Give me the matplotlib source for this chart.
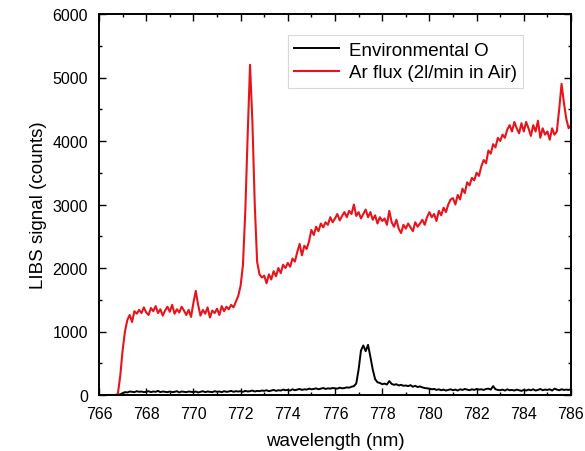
import numpy as np
import matplotlib
matplotlib.use("Agg")
import matplotlib.pyplot as plt
from matplotlib.ticker import MultipleLocator

plt.rcParams['font.family'] = ['Liberation Sans', 'DejaVu Sans']

# wavelength grid (nm), 0.1 nm step from 766.0 to 786.0
wavelength = np.round(np.arange(766.0, 786.05, 0.1), 2)

ar_flux = [
    0, 0, 0, 0, 0, 0, 0, 0, 20, 300,                              # 766
    700, 1000, 1180, 1260, 1150, 1320, 1280, 1340, 1290, 1380,    # 767
    1300, 1260, 1370, 1320, 1400, 1290, 1350, 1250, 1330, 1390,   # 768
    1310, 1420, 1280, 1350, 1300, 1390, 1330, 1260, 1340, 1230,   # 769
    1450, 1640, 1420, 1250, 1340, 1280, 1380, 1220, 1330, 1290,   # 770
    1360, 1260, 1400, 1320, 1390, 1350, 1420, 1380, 1470, 1560,   # 771
    1720, 2050, 2900, 4100, 5200, 4300, 3000, 2100, 1900, 1850,   # 772
    1880, 1760, 1900, 1820, 1950, 1870, 2000, 1920, 2050, 2000,   # 773
    2080, 2020, 2150, 2100, 2250, 2380, 2200, 2350, 2300, 2420,   # 774
    2600, 2520, 2650, 2580, 2700, 2640, 2720, 2680, 2800, 2720,   # 775
    2780, 2850, 2750, 2820, 2880, 2800, 2900, 2850, 3000, 2820,   # 776
    2880, 2780, 2850, 2920, 2800, 2880, 2760, 2830, 2700, 2800,   # 777
    2740, 2780, 2680, 2900, 2720, 2650, 2760, 2620, 2550, 2680,   # 778
    2620, 2700, 2640, 2580, 2720, 2650, 2700, 2760, 2680, 2800,   # 779
    2880, 2800, 2850, 2740, 2900, 2830, 2950, 2880, 3000, 3080,   # 780
    3100, 3000, 3150, 3080, 3250, 3180, 3350, 3300, 3420, 3380,   # 781
    3500, 3450, 3600, 3700, 3650, 3850, 3800, 3950, 3900, 4050,   # 782
    4000, 4100, 4050, 4180, 4250, 4150, 4300, 4200, 4120, 4280,   # 783
    4150, 4300, 4200, 4080, 4250, 4150, 4320, 4050, 4200, 4100,   # 784
    4150, 4020, 4200, 4100, 4150, 4500, 4900, 4600, 4350, 4200,   # 785
    4250,                                                         # 786
]

environmental_o = [
    0, 0, 0, 0, 0, 0, 0, 0, 0, 10,                  # 766
    30, 45, 40, 55, 50, 45, 60, 50, 55, 45,         # 767
    50, 60, 45, 55, 50, 65, 45, 55, 50, 45,         # 768
    55, 45, 50, 60, 40, 55, 50, 45, 55, 50,         # 769
    45, 55, 40, 50, 60, 45, 55, 50, 45, 60,         # 770
    50, 55, 45, 60, 50, 55, 65, 50, 60, 55,         # 771
    60, 50, 65, 55, 60, 70, 55, 65, 60, 70,         # 772
    65, 75, 60, 70, 80, 65, 75, 70, 85, 75,         # 773
    80, 70, 90, 75, 85, 95, 80, 90, 85, 100,        # 774
    90, 95, 105, 90, 100, 110, 95, 105, 100, 110,   # 775
    105, 100, 115, 105, 110, 120, 115, 130, 140, 180,  # 776
    400, 700, 780, 690, 790, 600, 400, 250, 200, 190,  # 777
    170, 180, 165, 220, 175, 160, 170, 150, 160, 145,  # 778
    150, 140, 155, 130, 145, 125, 135, 120, 110, 105,  # 779
    100, 90, 95, 80, 90, 75, 85, 70, 80, 90,        # 780
    75, 85, 70, 90, 80, 95, 85, 75, 90, 80,         # 781
    95, 85, 90, 80, 95, 100, 85, 140, 90, 80,       # 782
    75, 85, 70, 90, 75, 80, 70, 85, 75, 65,         # 783
    80, 70, 85, 75, 90, 70, 80, 95, 75, 85,         # 784
    80, 90, 70, 100, 85, 75, 90, 80, 85, 80,        # 785
    90,                                             # 786
]

series_labels = ["Environmental O", "Ar flux (2l/min in Air)"]
x_ticks = [766, 768, 770, 772, 774, 776, 778, 780, 782, 784, 786]
y_ticks = [0, 1000, 2000, 3000, 4000, 5000, 6000]

fig = plt.figure(figsize=(5.85, 4.52), dpi=100)
ax = fig.add_axes([99/585, 1-396/452, 472/585, 381/452])

ax.plot(wavelength, environmental_o, color='black', lw=1.4, label=series_labels[0])
ax.plot(wavelength, ar_flux, color='#e8141b', lw=1.5, label=series_labels[1])

ax.set_xlim(766, 786)
ax.set_ylim(0, 6000)
ax.set_xticks(x_ticks)
ax.set_yticks(y_ticks)
ax.xaxis.set_minor_locator(MultipleLocator(1))
ax.yaxis.set_minor_locator(MultipleLocator(500))
ax.tick_params(which='both', direction='in', top=True, right=True, width=1.0, labelsize=11.5)
ax.tick_params(which='major', length=5)
ax.tick_params(which='minor', length=2.5)
ax.tick_params(axis='x', which='major', pad=8)
ax.tick_params(axis='y', which='major', pad=8)
for s in ax.spines.values():
    s.set_linewidth(1.4)

ax.set_xlabel("wavelength (nm)", fontsize=13.5, labelpad=8)
ax.set_ylabel("LIBS signal (counts)", fontsize=13.5, labelpad=4)

leg = ax.legend(loc='upper left', bbox_to_anchor=(0.400, 0.945), borderaxespad=0,
                fontsize=13.5, handlelength=2.4, handletextpad=0.5, fancybox=False,
                framealpha=1, edgecolor='#d8d8d8', borderpad=0.35, labelspacing=0.3)
leg.get_frame().set_linewidth(0.8)

fig.savefig("out.png", dpi=100)
